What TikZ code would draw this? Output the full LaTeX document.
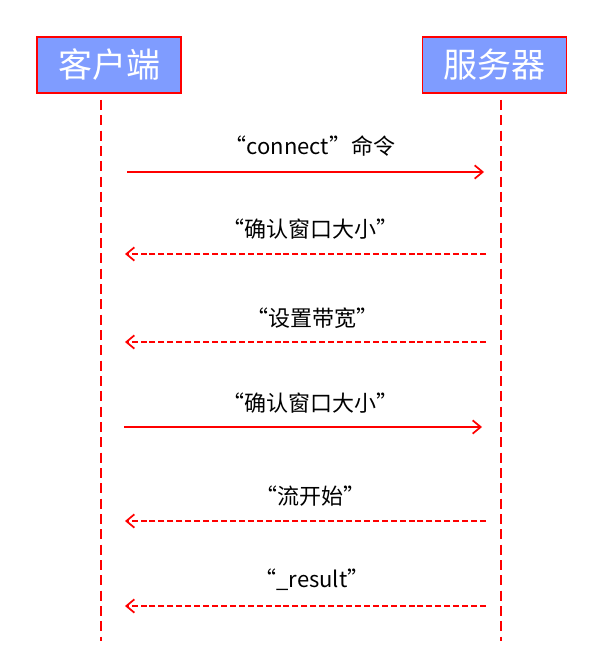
\documentclass[tikz,border=0pt]{standalone}
\usepackage{fontspec}
\setmainfont{Noto Sans CJK SC}
\usetikzlibrary{arrows.meta}
\definecolor{boxblue}{RGB}{127,156,255}
\definecolor{lred}{RGB}{255,0,0}
\begin{document}
\begin{tikzpicture}[x=0.75pt, y=-0.75pt, thick,
    actor/.style = {draw=lred, fill=boxblue, line width=0.8pt, text=white, minimum width=108pt, minimum height=42pt, inner sep=0pt, font=\fontsize{25.5}{30}\selectfont},
    life/.style = {draw=lred, line width=1.6pt, dash pattern=on 7.5pt off 4pt},
    msg/.style = {draw=lred, line width=1.3pt, -{Straight Barb[length=6pt,width=10pt]}},
    reply/.style = {msg, dash pattern=on 4.5pt off 2.2pt},
    lbl/.style = {font=\fontsize{16.5}{20}\selectfont}]
  \useasboundingbox (0,0) rectangle (600,659);

  \node[actor] (client) at (109,65) {客户端};
  \node[actor] (server) at (494.5,65) {服务器};

  \coordinate (c0) at (101,100);
  \coordinate (c1) at (101,641);
  \coordinate (s0) at (501,100);
  \coordinate (s1) at (501,641);
  \draw[life] (c0) -- (c1);
  \draw[life] (s0) -- (s1);

  % messages
  \coordinate (a1) at (127,172);  \coordinate (b1) at (484,172);
  \coordinate (a2) at (125,254);  \coordinate (b2) at (486,254);
  \coordinate (a3) at (125,342);  \coordinate (b3) at (486,342);
  \coordinate (a4) at (124,427);  \coordinate (b4) at (482,427);
  \coordinate (a5) at (125,521);  \coordinate (b5) at (486,521);
  \coordinate (a6) at (125,606);  \coordinate (b6) at (486,606);

  \node[lbl] (m1) at (310,146) {“connect”命令};
  \node[lbl] (m2) at (310,229) {“确认窗口大小”};
  \node[lbl] (m3) at (312,318) {“设置带宽”};
  \node[lbl] (m4) at (310,403) {“确认窗口大小”};
  \node[lbl] (m5) at (310,496) {“流开始”};
  \node[lbl] (m6) at (312,580) {“\_result”};

  \draw[msg] (a1) -- (b1);
  \draw[reply] (b2) -- (a2);
  \draw[reply] (b3) -- (a3);
  \draw[msg] (a4) -- (b4);
  \draw[reply] (b5) -- (a5);
  \draw[reply] (b6) -- (a6);
\end{tikzpicture}
\end{document}
